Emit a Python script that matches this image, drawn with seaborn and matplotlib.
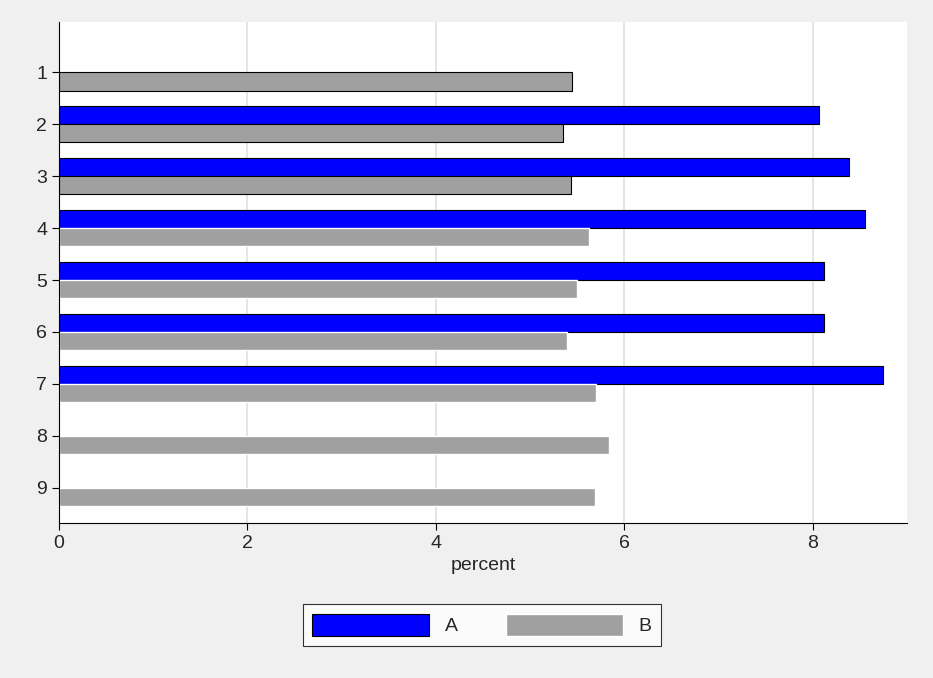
import numpy as np
import pandas as pd
import matplotlib
matplotlib.use("Agg")
import matplotlib.pyplot as plt
import seaborn as sns

# Chart data
categories = ["1", "2", "3", "4", "5", "6", "7", "8", "9"]
values_a = [np.nan, 8.07, 8.38, 8.55, 8.12, 8.12, 8.75, np.nan, np.nan]
values_b = [5.44, 5.35, 5.43, 5.62, 5.50, 5.39, 5.70, 5.84, 5.69]

df = pd.DataFrame({
    "cat": categories * 2,
    "percent": values_a + values_b,
    "group": ["A"] * 9 + ["B"] * 9,
})

sns.set_style("white")
plt.rcParams["font.family"] = ["Liberation Sans", "DejaVu Sans"]

fig = plt.figure(figsize=(9.33, 6.78), dpi=100, facecolor="#f0f0f0")
ax = fig.add_axes([59 / 933, 1 - 523 / 678, 848 / 933, 501 / 678])
ax.set_facecolor("white")

sns.barplot(data=df, x="percent", y="cat", hue="group", orient="h",
            palette={"A": "#0000ff", "B": "#a0a0a0"}, width=0.7,
            saturation=1, ax=ax, legend=False)

for p in ax.patches[:9]:
    p.set_edgecolor("black")
    p.set_linewidth(0.8)

ax.set_xlim(0, 9.0)
ax.set_ylim(8.68, -0.97)
ax.set_xticks([0, 2, 4, 6, 8])
ax.xaxis.grid(True, color="#e0e0e0", linewidth=1.2)
ax.set_axisbelow(True)
for s in ["top", "right"]:
    ax.spines[s].set_visible(False)
for s in ["left", "bottom"]:
    ax.spines[s].set_color("black")
    ax.spines[s].set_linewidth(0.8)
ax.tick_params(axis="both", labelsize=14, length=5, color="black", left=True, bottom=True)
ax.set_xlabel("percent", fontsize=14)
ax.set_ylabel("")

from matplotlib.patches import Patch
handles = [Patch(facecolor="#0000ff", edgecolor="black", linewidth=0.8),
           Patch(facecolor="#a0a0a0")]
leg = fig.legend(handles, ["A", "B"], loc="center", bbox_to_anchor=(482 / 933, 1 - 625 / 678),
                 ncol=2, fontsize=14, frameon=True, fancybox=False, handlelength=6,
                 handleheight=1.4, columnspacing=2.5, borderpad=0.5)
leg.get_frame().set_edgecolor("black")
leg.get_frame().set_linewidth(0.8)

fig.savefig("out.png", dpi=100, facecolor=fig.get_facecolor())
